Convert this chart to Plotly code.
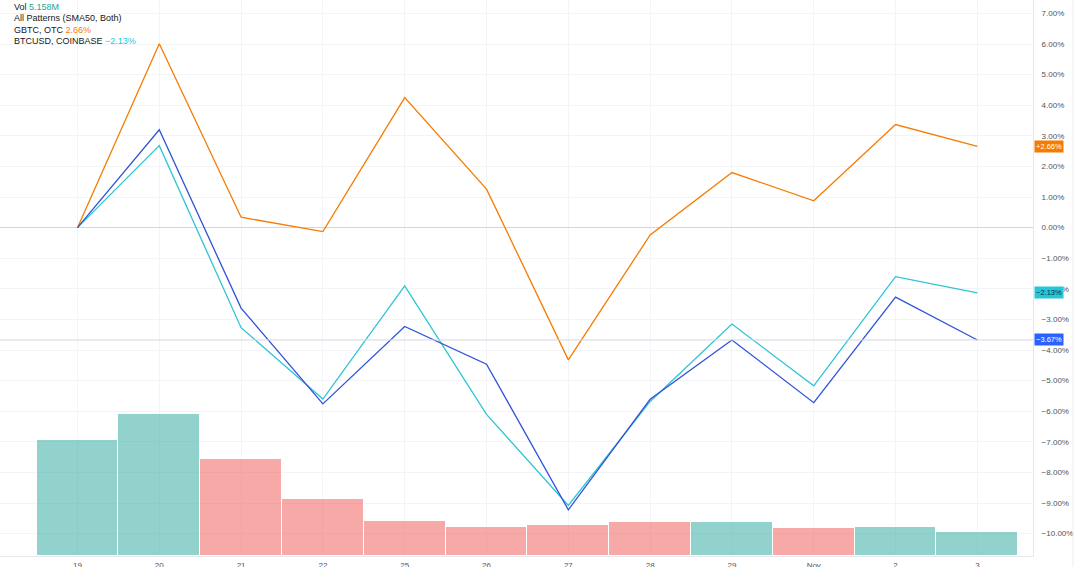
import plotly.graph_objects as go

dates = ["19", "20", "21", "22", "25", "26", "27", "28", "29", "Nov", "2", "3"]
gbtc_pct = [0.0, 6.01, 0.34, -0.13, 4.25, 1.26, -4.32, -0.24, 1.80, 0.88, 3.37, 2.66]
btcusd_pct = [0.0, 2.68, -3.27, -5.60, -1.90, -6.10, -9.08, -5.68, -3.15, -5.17, -1.60, -2.13]
main_pct = [0.0, 3.20, -2.63, -5.76, -3.23, -4.46, -9.22, -5.61, -3.67, -5.72, -2.27, -3.67]
volume_m = [24.56, 30.08, 20.59, 12.03, 7.49, 6.16, 6.58, 7.22, 7.15, 6.01, 6.16, 5.158]
vol_up = [True, True, False, False, False, False, False, False, True, False, True, True]
ytick_vals = list(range(7, -11, -1))

UP = "rgba(38,166,154,0.5)"
DOWN = "rgba(239,83,80,0.5)"
ORANGE = "#f57c00"
CYAN = "#2ec4d4"
BLUE = "#3053d8"
FONT = "Liberation Sans, Arial, sans-serif"

fig = go.Figure()
fig.add_trace(go.Bar(
    x=dates, y=volume_m, yaxis="y2",
    marker=dict(color=[UP if u else DOWN for u in vol_up], line=dict(color="white", width=1)),
    width=1.0, showlegend=False, hoverinfo="skip"))
fig.add_trace(go.Scatter(x=dates, y=gbtc_pct, mode="lines", line=dict(color=ORANGE, width=1.3), showlegend=False))
fig.add_trace(go.Scatter(x=dates, y=btcusd_pct, mode="lines", line=dict(color=CYAN, width=1.3), showlegend=False))
fig.add_trace(go.Scatter(x=dates, y=main_pct, mode="lines", line=dict(color=BLUE, width=1.3), showlegend=False))

def fmt(v):
    s = f"{abs(v):.2f}%"
    return ("\u2212" + s) if v < 0 else s

fig.update_layout(
    width=1080, height=567,
    margin=dict(l=0, r=47, t=0, b=11),
    paper_bgcolor="white", plot_bgcolor="white",
    bargap=0,
    font=dict(family=FONT, size=8, color="#50535e"),
    xaxis=dict(type="category", range=[-0.947, 11.68], showgrid=True, gridcolor="#f3f4f7",
               tickfont=dict(size=8, color="#50535e"), ticks="", showline=True,
               linecolor="#e6e8ee", automargin=False, zeroline=False, ticklabelstandoff=1),
    yaxis=dict(side="right", range=[-10.73, 7.44], tickvals=ytick_vals,
               ticktext=[fmt(v) for v in ytick_vals], showgrid=True, gridcolor="#f3f4f7",
               zeroline=True, zerolinecolor="#d3d6de", zerolinewidth=1,
               showline=True, linecolor="#e6e8ee", ticks="", ticklabelstandoff=6,
               tickfont=dict(size=8, color="#50535e"), automargin=False),
    yaxis2=dict(overlaying="y", range=[0, 118.0], visible=False, showgrid=False),
)

# price line at last main value
fig.add_shape(type="line", xref="paper", x0=0, x1=1, yref="y", y0=main_pct[-1], y1=main_pct[-1],
              line=dict(color="#d3d6de", width=1))
# right border
fig.add_shape(type="line", xref="paper", x0=1.0387, x1=1.0387, yref="paper", y0=-0.02, y1=1,
              line=dict(color="#eceef2", width=1))

def price_box(val, bg, fg):
    txt = ("+" if val > 0 else "\u2212") + f"{abs(val):.2f}%"
    fig.add_annotation(xref="paper", x=1.0, xanchor="left", yref="y", y=val, text=txt,
                       showarrow=False, bgcolor=bg, font=dict(color=fg, size=7.5, family=FONT),
                       borderpad=1, xshift=1)

price_box(gbtc_pct[-1], ORANGE, "white")
price_box(btcusd_pct[-1], "#26c6da", "#1a2a3a")
price_box(main_pct[-1], "#2962ff", "white")

legend_rows = [
    f'Vol <span style="color:#26a69a">{volume_m[-1]:.3f}M</span>',
    'All Patterns (SMA50, Both)',
    f'GBTC, OTC <span style="color:{ORANGE}">{gbtc_pct[-1]:.2f}%</span>',
    f'BTCUSD, COINBASE <span style="color:#26c6da">\u2212{abs(btcusd_pct[-1]):.2f}%</span>',
]
for i, t in enumerate(legend_rows):
    fig.add_annotation(xref="paper", yref="paper", x=12 / 1033, y=1 - (7 + 11.3 * i) / 556,
                       xanchor="left", yanchor="middle", text=t, showarrow=False,
                       font=dict(size=9, color="#131722", family=FONT))

fig.write_html("out.html", config={"displayModeBar": False},
               post_script="document.body.style.margin='0';")
